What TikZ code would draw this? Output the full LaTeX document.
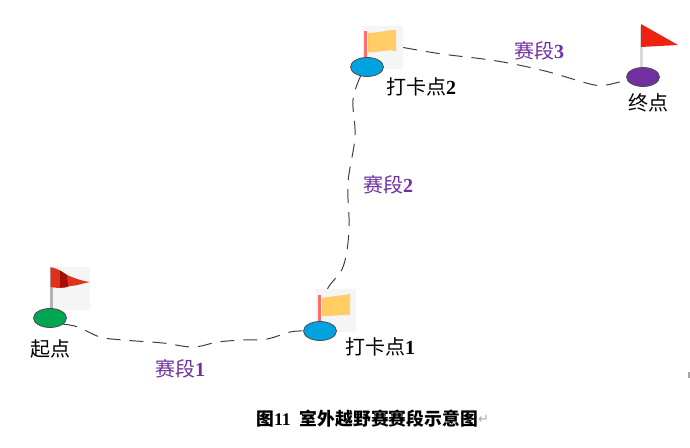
\documentclass[tikz,border=0pt]{standalone}
\usepackage{fontspec}
\setmainfont{Liberation Serif}
\newfontfamily\cjkf{Noto Sans CJK SC}
\newfontfamily\arrowf{DejaVu Sans}
\usetikzlibrary{shapes.geometric,backgrounds}
\definecolor{segpurple}{HTML}{7030A0}
\definecolor{startgreen}{HTML}{00A651}
\definecolor{cpblue}{HTML}{00A2E0}
\definecolor{flagyellow}{HTML}{FFCC66}
\definecolor{flagpink}{HTML}{FF6B70}
\definecolor{flagbg}{HTML}{F5F5F5}
\definecolor{flagred}{HTML}{E0301E}
\definecolor{flagdark}{HTML}{A01008}
\definecolor{endred}{HTML}{EE2211}
\tikzset{
  spot/.style={ellipse,draw=black!70,line width=0.8pt,minimum width=33pt,minimum height=19pt,inner sep=0pt},
  flagbox/.style={rectangle,fill=flagbg,minimum width=40pt,minimum height=43pt,inner sep=0pt},
  lbl/.style={inner sep=0pt,font=\fontsize{20}{20}\selectfont\cjkf},
  seglbl/.style={inner sep=0pt,text=segpurple,font=\fontsize{20}{20}\selectfont\cjkf},
  route/.style={draw=black!75,line width=1pt,dash pattern=on 14pt off 9pt},
}
\newcommand{\numb}[1]{{\bfseries\fontspec{Liberation Serif}#1}}
\begin{document}
\begin{tikzpicture}[x=1pt,y=-1pt]
\useasboundingbox (0,0) rectangle (690,447);
% flags
\node[flagbox] (fa) at (70,288.5) {};
\node[flagbox] (fb) at (336,310.5) {};
\node[flagbox] (fc) at (383,47.5) {};
\fill[gray!60] (50,267) rectangle (53,311);
\fill[flagred] (50.5,267.5) .. controls (58,268) and (62,272) .. (67,275)
  .. controls (74,278) and (82,281) .. (90,282)
  .. controls (83,283) and (77,286) .. (70,286)
  .. controls (63,289) and (57,288) .. (50.5,287) -- cycle;
\fill[flagdark] (60,270.5) .. controls (63,272) and (65,274) .. (67,275) -- (68,286.6) .. controls (65,287.5) and (62,287.5) .. (60,287.5) -- cycle;
\fill[flagpink] (318,295) rectangle (321,322);
\fill[flagyellow] (322,298) .. controls (332,296) and (340,296) .. (350,294)
  -- (350,315) .. controls (340,315) and (332,316) .. (322,316) -- cycle;
\fill[flagpink] (364,31) rectangle (367,58);
\fill[flagyellow] (368,33) .. controls (378,33) and (386,30) .. (396,30)
  -- (396,51) .. controls (386,49) and (378,53) .. (368,52) -- cycle;
\fill[gray!30] (640,26) rectangle (642.5,69);
\fill[endred] (641,24) -- (678,45) -- (641,47) -- cycle;
\fill[gray!70] (688,372) rectangle (689.5,378);
% spots
\node[spot,fill=startgreen] (start) at (50,318) {};
\node[spot,fill=cpblue] (cpa) at (320,331) {};
\node[spot,fill=cpblue] (cpb) at (367,67) {};
\node[spot,fill=segpurple] (finish) at (643,77) {};
% connectors
\begin{scope}[on background layer]
\draw[route] plot[smooth,tension=0.6] coordinates {(start.-25) (78,327) (100,337) (123,340) (163,343) (193,347) (218,342) (243,340) (267,339) (290,332) (cpa.180)};
\draw[route] plot[smooth,tension=0.6] coordinates {(cpb.-125) (353,100) (355,137) (348,183) (349,230) (343,267) (327,290) (cpa.north)};
\draw[route] plot[smooth,tension=0.6] coordinates {(fc.east) (442,54) (497,61) (545,71) (590,84) (606,85) (finish.190)};
\end{scope}
% labels
\node[lbl] (lstart) at (50,349) {起点};
\node[lbl,anchor=west] (lcpa) at (345,347) {打卡点\numb{1}};
\node[lbl,anchor=west] (lcpb) at (386,87) {打卡点\numb{2}};
\node[lbl] (lfinish) at (648,103) {终点};
\node[seglbl,anchor=west] (sa) at (155,369) {赛段\numb{1}};
\node[seglbl,anchor=west] (sb) at (363,185) {赛段\numb{2}};
\node[seglbl,anchor=west] (sc) at (514,51) {赛段\numb{3}};
\node[inner sep=0pt,anchor=west,font=\fontsize{17.8}{18}\selectfont\cjkf\bfseries] (cap) at (256,419) {图\numb{11}\hspace{9pt}室外越野赛赛段示意图};
\node[inner sep=0pt,anchor=west,text=gray!70,font=\fontsize{13}{13}\selectfont\arrowf] (ret) at (cap.east) {↵};
\end{tikzpicture}
\end{document}
